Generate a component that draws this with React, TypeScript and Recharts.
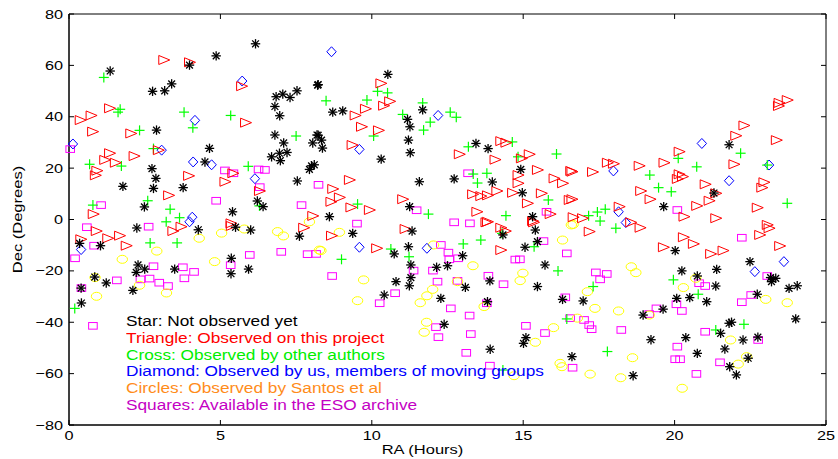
import { ScatterChart, Scatter, XAxis, YAxis, ReferenceArea, Legend } from "recharts"

// RA (hours), Dec (degrees)
const starPts: [number, number][] = [
  [1.36, 57.8], [3.98, 60.1], [4.86, 63.7], [6.16, 68.4], [3.39, 52.8], [2.76, 49.9], [3.16, 50.1], [6.84, 47.8],
  [7.06, 48.8], [7.3, 47.5], [7.53, 50.1], [8.21, 52.3], [6.8, 44.0], [6.96, 40.4], [2.89, 34.8], [6.8, 32.9],
  [7.09, 29.8], [8.05, 29.8], [8.19, 32.9], [4.64, 27.7], [6.69, 24.4], [6.95, 25.8], [7.2, 26.1], [6.98, 22.9],
  [4.49, 22.4], [2.74, 19.8], [2.87, 16.0], [1.78, 12.9], [2.79, 12.1], [3.77, 12.4], [7.54, 15.0], [8.01, 20.9],
  [7.94, 19.5], [6.22, 7.2], [6.41, 5.0], [5.4, 3.0], [2.49, 4.9],
  [0.35, -9.3], [1.04, -10.2], [2.24, -3.3], [4.27, -4.0], [5.5, -3.0], [6.0, -4.1], [7.61, -6.5], [5.36, -15.1],
  [5.35, -21.1], [5.93, -19.3], [2.28, -17.7], [2.5, -19.3], [2.22, -20.6], [3.49, -19.3], [0.85, -22.4],
  [1.23, -24.7], [2.11, -27.6], [0.4, -26.7], [0.41, -32.5],
  [8.23, 52.5], [10.53, 56.5], [8.71, 41.8], [9.04, 42.3], [11.68, 42.7], [11.18, 39.0], [11.26, 36.1],
  [8.23, 32.8], [8.34, 30.9], [8.37, 27.8], [11.21, 30.9], [11.27, 26.0], [10.31, 23.5], [8.1, 21.3],
  [13.44, 29.6], [13.84, 27.6], [14.92, 19.5], [11.57, 14.7], [12.72, 15.8], [13.98, 14.6], [14.97, 10.4],
  [11.25, 5.0], [8.6, 1.1], [15.31, 1.1],
  [9.37, -5.4], [11.33, -4.5], [11.21, -10.6], [10.74, -13.4], [11.29, -17.7], [12.14, -18.6], [12.5, -18.0],
  [13.0, -14.1], [11.29, -22.6], [10.8, -24.2], [11.24, -25.8], [10.41, -29.4], [12.28, -30.7], [13.09, -26.4],
  [13.9, -23.9], [13.82, -32.0], [12.39, -40.8], [13.91, -50.5], [14.33, -6.0], [15.4, -4.1], [15.47, -8.6],
  [15.06, -10.8], [15.72, -17.7], [15.47, -26.1], [15.09, -46.0], [15.01, -48.2], [16.3, -31.1], [16.61, -53.4],
  [21.8, 29.1], [21.3, 10.3], [19.64, 5.0],
  [20.02, -12.1], [20.24, -20.0], [20.75, -22.0], [21.39, -19.4], [21.36, -25.9], [20.07, -30.7], [20.5, -30.4],
  [21.06, -32.0], [19.62, -34.9], [18.96, -37.2], [22.49, -16.4], [23.17, -22.6], [23.34, -22.9], [23.2, -24.2],
  [23.78, -26.8], [24.05, -25.8], [22.73, -29.1], [24.0, -38.7], [16.98, -31.7], [21.8, -40.4], [21.88, -40.0],
  [21.52, -44.3], [22.26, -46.9], [22.75, -45.8], [20.37, -46.0], [19.22, -46.8], [21.66, -50.4], [20.75, -52.1],
  [22.43, -54.0], [21.82, -57.3], [22.04, -60.5], [18.63, -60.8],
]

const trianglePts: [number, number][] = [
  [3.13, 62.1], [3.98, 61.2], [5.7, 51.9], [1.34, 43.3], [0.73, 40.5], [0.37, 38.7], [0.78, 34.2], [2.04, 33.5],
  [5.83, 37.7], [2.95, 27.0], [1.34, 25.8], [1.18, 23.2], [1.53, 22.1], [2.15, 24.7], [0.92, 19.0], [0.87, 17.2],
  [3.95, 17.0], [5.15, 14.7], [5.41, 18.0], [6.29, 11.1], [3.29, 9.4], [0.8, 2.1], [8.05, 1.4], [5.35, -1.5],
  [0.39, -7.7], [0.9, -4.5], [1.28, -7.3], [1.67, -6.3], [1.89, -10.2], [3.43, -4.5], [3.7, -2.8], [5.36, -2.5],
  [7.75, -3.2],
  [10.3, 53.0], [10.59, 46.0], [10.39, 44.3], [9.79, 43.1], [9.45, 40.5], [9.66, 36.1], [10.22, 34.7], [9.35, 29.0],
  [12.89, 25.4], [14.07, 23.3], [14.26, 30.5], [14.43, 29.9], [15.2, 25.4], [14.94, 23.8], [15.47, 19.3],
  [16.02, 16.0], [16.3, 14.1], [16.57, 18.9], [14.83, 17.3], [14.83, 14.1], [9.26, 15.4], [8.71, 11.9], [8.93, 8.6],
  [8.65, 6.9], [9.31, 4.7], [9.92, 3.7], [11.02, 7.9], [13.33, 9.8], [13.6, 9.1], [13.82, 9.4], [14.13, 11.1],
  [14.65, 10.4], [15.6, 10.2], [15.14, 6.3], [16.52, 7.6], [13.47, 3.0], [15.89, 2.1], [13.82, -0.9], [15.31, -0.6],
  [8.67, -6.3], [11.1, -3.7], [10.16, -11.2], [13.77, -1.1], [14.26, -3.2], [14.41, -4.5], [14.26, -11.9],
  [15.34, -1.1],
  [23.72, 46.5], [23.45, 45.4], [23.43, 44.2], [22.29, 36.6], [22.02, 32.6], [23.36, 30.9], [20.15, 26.4],
  [21.96, 21.5], [19.65, 22.1], [18.83, 20.9], [17.78, 22.1], [17.98, 21.7], [17.29, 18.5], [16.61, 18.6],
  [20.15, 17.6], [20.26, 16.7], [20.09, 15.8], [21.01, 13.7], [18.88, 11.1], [19.19, 7.9], [21.36, 10.2],
  [21.14, 7.3], [22.95, 14.5], [22.88, 12.4], [16.61, 7.9], [20.73, 5.3], [22.73, 4.6], [18.17, 5.0], [20.31, 1.1],
  [21.36, 0.5], [16.65, 0.9], [16.96, 0.5], [23.06, -2.1],
  [17.18, -4.7], [18.55, -1.1], [18.86, -3.2], [20.29, -6.9], [20.62, -9.5], [19.63, -10.8], [21.19, -13.4],
  [21.6, -12.1], [22.81, -6.0], [23.12, -3.4], [23.47, -10.3],
]

const crossPts: [number, number][] = [
  [1.15, 55.3], [1.69, 42.9], [1.62, 41.8], [3.8, 41.8], [5.34, 40.5], [4.09, 35.7], [2.33, 34.7], [7.5, 32.5],
  [2.79, 27.6], [0.68, 21.5], [1.73, 20.8], [5.92, 20.7], [0.79, 5.6], [2.6, 7.3], [3.34, 4.0], [3.65, 0.7],
  [3.21, -0.9], [6.29, 5.3], [2.68, -9.1], [3.57, -9.1], [0.19, -34.6],
  [8.49, 46.2], [9.84, 46.5], [10.19, 49.9], [10.52, 49.3], [11.68, 45.4], [11.02, 40.9], [11.93, 37.9],
  [11.71, 34.8], [12.59, 41.8], [12.79, 39.8], [10.06, 32.5], [13.19, 28.3], [14.64, 30.2], [16.1, 25.5],
  [14.83, 24.4], [13.35, 17.7], [13.8, 18.0], [13.49, 14.2], [9.53, 6.0], [11.87, 2.1], [14.43, 1.5], [15.83, 7.6],
  [10.63, -11.5], [11.23, -14.5], [9.0, -15.5], [13.02, -9.5], [13.6, -8.0], [14.3, -5.4], [15.36, -10.6],
  [16.15, -20.0], [16.44, -38.7], [14.33, -58.6],
  [22.18, 25.8], [20.12, 23.8], [20.73, 20.5], [19.18, 17.3], [19.47, 12.4], [19.89, 10.8], [23.06, 21.2],
  [23.72, 6.3], [17.71, 4.0], [17.45, 2.9], [17.16, 1.5], [17.54, -0.6], [18.06, -3.4], [17.31, -26.1],
  [19.96, -23.5], [20.78, -29.1], [21.36, -43.0], [22.29, -40.8], [17.78, -51.4],
]

const diamondPts: [number, number][] = [
  [5.72, 53.9], [4.16, 38.6], [0.13, 29.4], [3.06, 27.0], [4.1, 22.4], [4.71, 21.3], [6.14, 15.9], [4.07, 0.9],
  [3.98, -0.9], [0.4, -11.7], [8.67, 65.3], [12.19, 40.5], [9.59, 27.3], [9.59, -10.8], [11.82, -11.2],
  [20.9, 29.6], [17.98, 18.9], [23.12, 21.2], [21.8, 15.1], [18.15, 3.0], [18.39, -1.2], [23.61, -16.4],
  [22.65, -20.3],
]

const circlePts: [number, number][] = [
  [0.86, -22.6], [0.91, -29.9], [1.76, -15.5], [2.9, -12.3], [2.33, -25.6], [3.22, -28.6], [4.3, -7.3],
  [5.04, -5.3], [4.81, -16.4], [5.79, -3.7], [6.89, -4.7], [7.08, -6.4], [7.94, -0.9], [8.27, -11.9],
  [8.93, -5.0], [8.32, -12.1], [9.73, -23.5], [9.53, -31.6], [12.01, -27.2], [11.82, -29.7], [11.6, -32.4],
  [12.83, -24.2], [12.04, -9.9], [13.34, -18.0], [13.71, -33.9], [11.81, -40.0], [11.73, -43.9], [14.99, -20.9],
  [14.9, -23.8], [16.3, -8.0], [16.0, -42.1], [15.4, -47.8], [16.22, -56.0], [16.28, -57.3], [14.7, -60.8],
  [16.59, -2.1],
  [18.57, -18.4], [18.72, -20.7], [17.12, -28.1], [17.37, -34.6], [18.15, -35.6], [19.16, -37.2], [20.29, -26.5],
  [20.7, -22.9], [23.01, -31.1], [23.72, -32.4], [16.65, -1.9], [16.79, -38.4], [18.61, -53.8], [17.21, -60.2],
  [18.22, -61.6], [21.85, -46.9], [22.38, -53.4], [22.1, -56.3], [20.25, -65.7],
]

const squarePts: [number, number][] = [
  [0.04, 27.4], [5.15, 19.1], [5.43, 18.0], [6.26, 19.5], [6.47, 19.3], [6.3, 12.6], [4.86, 7.3], [1.06, 5.6],
  [7.68, 5.6], [8.24, 13.5],
  [0.59, -3.0], [2.63, -2.8], [0.83, -10.2], [0.2, -15.1], [0.41, -26.7], [1.58, -23.7], [2.36, -23.3],
  [2.66, -23.0], [2.79, -18.2], [2.98, -24.6], [3.27, -25.9], [3.76, -18.6], [3.81, -22.9], [4.13, -20.4],
  [5.34, -17.8], [5.97, -13.8], [7.01, -12.6], [7.88, -13.5], [8.16, -13.4], [0.79, -41.4],
  [13.18, 18.0], [11.48, 3.6], [12.72, -1.1], [13.24, -1.5], [15.77, 3.0], [9.51, -1.6],
  [8.69, -22.0], [12.28, -9.9], [12.53, -12.9], [12.56, -15.5], [12.85, -15.1], [11.38, -19.9], [12.02, -19.9],
  [12.17, -24.2], [10.77, -28.7], [10.26, -32.6], [12.61, -34.6], [12.83, -23.9], [13.85, -21.9], [14.35, -25.2],
  [13.8, -32.6], [13.23, -37.4], [12.12, -41.9], [12.2, -45.8], [13.27, -44.6], [13.12, -51.9], [13.9, -56.9],
  [14.74, -15.6], [14.89, -15.5], [15.67, -8.4], [15.09, -41.4], [15.72, -44.2], [16.44, -13.2], [16.39, -30.3],
  [16.55, -38.4], [16.63, -57.7],
  [20.09, 3.7], [22.22, -7.1], [17.4, -20.6], [17.54, -23.3], [17.76, -21.2], [20.81, -24.8], [21.01, -25.9],
  [20.06, -33.0], [20.24, -35.6], [19.4, -34.6], [19.16, -36.8], [22.22, -32.2], [22.53, -29.4], [23.06, -22.0],
  [17.01, -39.1], [17.18, -41.1], [17.26, -42.7], [18.24, -43.0], [21.01, -43.7], [20.09, -49.5], [20.02, -54.4],
  [20.18, -54.4], [21.5, -55.6], [20.72, -60.1], [22.76, -46.9],
]

const xTicks = [0, 5, 10, 15, 20, 25]
const yTicks = [-80, -60, -40, -20, 0, 20, 40, 60, 80]

const legendOrder = [
  "Star: Not observed yet",
  "Triangle: Observed on this project",
  "Cross: Observed by other authors",
  "Diamond: Observed by us, members of moving groups",
  "Circles: Observed by Santos et al",
  "Squares: Available in the ESO archive",
]
const legendColors = ["#000000", "#ff0000", "#00ee00", "#0000ff", "#ff8c1a", "#c400c4"]

const W = 838
const H = 459
const PLOT_TOP = 14
const PLOT_BOTTOM = 425
const PLOT_LEFT = 69
const PLOT_RIGHT = 826
const FONT = "'Liberation Sans', Arial, Helvetica, sans-serif"
const STRETCH = 1.25

const toPts = (a: [number, number][]) => a.map(([ra, dec]) => ({ ra, dec }))

const fmt = (v: number) => (v < 0 ? `\u2212${Math.abs(v)}` : `${v}`)

function Asterisk({ cx, cy }: any) {
  const r = 4.7
  const d = r * 0.72
  return (
    <g stroke="#000" strokeWidth={1.3}>
      <line x1={cx - r} y1={cy} x2={cx + r} y2={cy} />
      <line x1={cx} y1={cy - r} x2={cx} y2={cy + r} />
      <line x1={cx - d} y1={cy - d} x2={cx + d} y2={cy + d} />
      <line x1={cx - d} y1={cy + d} x2={cx + d} y2={cy - d} />
    </g>
  )
}

function RightTriangle({ cx, cy }: any) {
  return (
    <polygon
      points={`${cx - 5},${cy - 4.5} ${cx + 6},${cy} ${cx - 5},${cy + 4.5}`}
      fill="none"
      stroke="#ff0000"
      strokeWidth={1}
    />
  )
}

function Plus({ cx, cy }: any) {
  return (
    <g stroke="#00ff00" strokeWidth={1.2}>
      <line x1={cx - 5} y1={cy} x2={cx + 5} y2={cy} />
      <line x1={cx} y1={cy - 5} x2={cx} y2={cy + 5} />
    </g>
  )
}

function Diamond({ cx, cy }: any) {
  return (
    <polygon
      points={`${cx},${cy - 5} ${cx + 4.7},${cy} ${cx},${cy + 5} ${cx - 4.7},${cy}`}
      fill="none"
      stroke="#0000ff"
      strokeWidth={1}
    />
  )
}

function Ring({ cx, cy }: any) {
  return <ellipse cx={cx} cy={cy} rx={5.2} ry={4} fill="none" stroke="#ffff00" strokeWidth={1} />
}

function Box({ cx, cy }: any) {
  return <rect x={cx - 4.3} y={cy - 3.3} width={8.6} height={6.6} fill="none" stroke="#ff00ff" strokeWidth={1} />
}

function XTick({ x, y, payload }: any) {
  return (
    <g>
      <line x1={x} x2={x} y1={PLOT_BOTTOM} y2={PLOT_BOTTOM - 5} stroke="#000" />
      <line x1={x} x2={x} y1={PLOT_TOP} y2={PLOT_TOP + 5} stroke="#000" />
      <g transform={`translate(${x},${y}) scale(${STRETCH},1)`}>
        <text textAnchor="middle" dy="0.71em" fontSize={13} fontFamily={FONT} fill="#000">
          {fmt(payload.value)}
        </text>
      </g>
    </g>
  )
}

function YTick({ x, y, payload }: any) {
  return (
    <g>
      <line x1={PLOT_LEFT} x2={PLOT_LEFT + 5} y1={y} y2={y} stroke="#000" />
      <line x1={PLOT_RIGHT} x2={PLOT_RIGHT - 5} y1={y} y2={y} stroke="#000" />
      <g transform={`translate(${x},${y}) scale(${STRETCH},1)`}>
        <text textAnchor="end" dy="0.35em" fontSize={13} fontFamily={FONT} fill="#000">
          {fmt(payload.value)}
        </text>
      </g>
    </g>
  )
}

function XLabel({ viewBox }: any) {
  const cx = viewBox.x + viewBox.width / 2 - 25
  return (
    <g transform={`translate(${cx},${H - 5}) scale(${STRETCH},1)`}>
      <text textAnchor="middle" fontSize={13.2} fontFamily={FONT} fill="#000">
        RA (Hours)
      </text>
    </g>
  )
}

function YLabel({ viewBox }: any) {
  const cy = viewBox.y + viewBox.height / 2
  return (
    <g transform={`translate(22,${cy}) rotate(-90) scale(${STRETCH},1)`}>
      <text textAnchor="middle" fontSize={13.2} fontFamily={FONT} fill="#000">
        Dec (Degrees)
      </text>
    </g>
  )
}

function LegendText({ payload }: any) {
  const items = [...(payload || [])].sort(
    (a: any, b: any) => legendOrder.indexOf(a.value) - legendOrder.indexOf(b.value),
  )
  return (
    <div style={{ fontFamily: FONT, fontSize: 13.8, lineHeight: "16.8px", whiteSpace: "nowrap" }}>
      {items.map((it: any) => (
        <div
          key={it.value}
          style={{
            color: legendColors[legendOrder.indexOf(it.value)],
            transform: `scaleX(${STRETCH})`,
            transformOrigin: "left center",
          }}
        >
          {it.value}
        </div>
      ))}
    </div>
  )
}

export default function App() {
  return (
    <div style={{ position: "absolute", left: 0, top: 0, width: W, height: H, background: "#fff" }}>
      <ScatterChart width={W} height={H} margin={{ top: PLOT_TOP, right: W - PLOT_RIGHT, bottom: 0, left: 0 }}>
        <XAxis
          type="number"
          dataKey="ra"
          domain={[0, 25]}
          ticks={xTicks}
          height={H - PLOT_BOTTOM}
          tickLine={false}
          tickSize={0}
          tickMargin={6}
          axisLine={{ stroke: "#000" }}
          tick={XTick}
          interval={0}
          label={XLabel}
        />
        <YAxis
          type="number"
          dataKey="dec"
          domain={[-80, 80]}
          ticks={yTicks}
          width={PLOT_LEFT}
          tickLine={false}
          tickSize={0}
          tickMargin={6}
          axisLine={{ stroke: "#000" }}
          tick={YTick}
          interval={0}
          label={YLabel}
        />
        <ReferenceArea x1={0} x2={25} y1={-80} y2={80} fill="none" stroke="#000" strokeWidth={1} />
        <Legend
          layout="vertical"
          align="center"
          verticalAlign="middle"
          content={LegendText}
          wrapperStyle={{ left: 126, top: 314, width: "auto", height: "auto" }}
        />
        <Scatter name={legendOrder[5]} data={toPts(squarePts)} fill="#ff00ff" shape={Box} isAnimationActive={false} />
        <Scatter name={legendOrder[4]} data={toPts(circlePts)} fill="#ffff00" shape={Ring} isAnimationActive={false} />
        <Scatter name={legendOrder[3]} data={toPts(diamondPts)} fill="#0000ff" shape={Diamond} isAnimationActive={false} />
        <Scatter name={legendOrder[2]} data={toPts(crossPts)} fill="#00ff00" shape={Plus} isAnimationActive={false} />
        <Scatter name={legendOrder[1]} data={toPts(trianglePts)} fill="#ff0000" shape={RightTriangle} isAnimationActive={false} />
        <Scatter name={legendOrder[0]} data={toPts(starPts)} fill="#000000" shape={Asterisk} isAnimationActive={false} />
      </ScatterChart>
    </div>
  )
}
